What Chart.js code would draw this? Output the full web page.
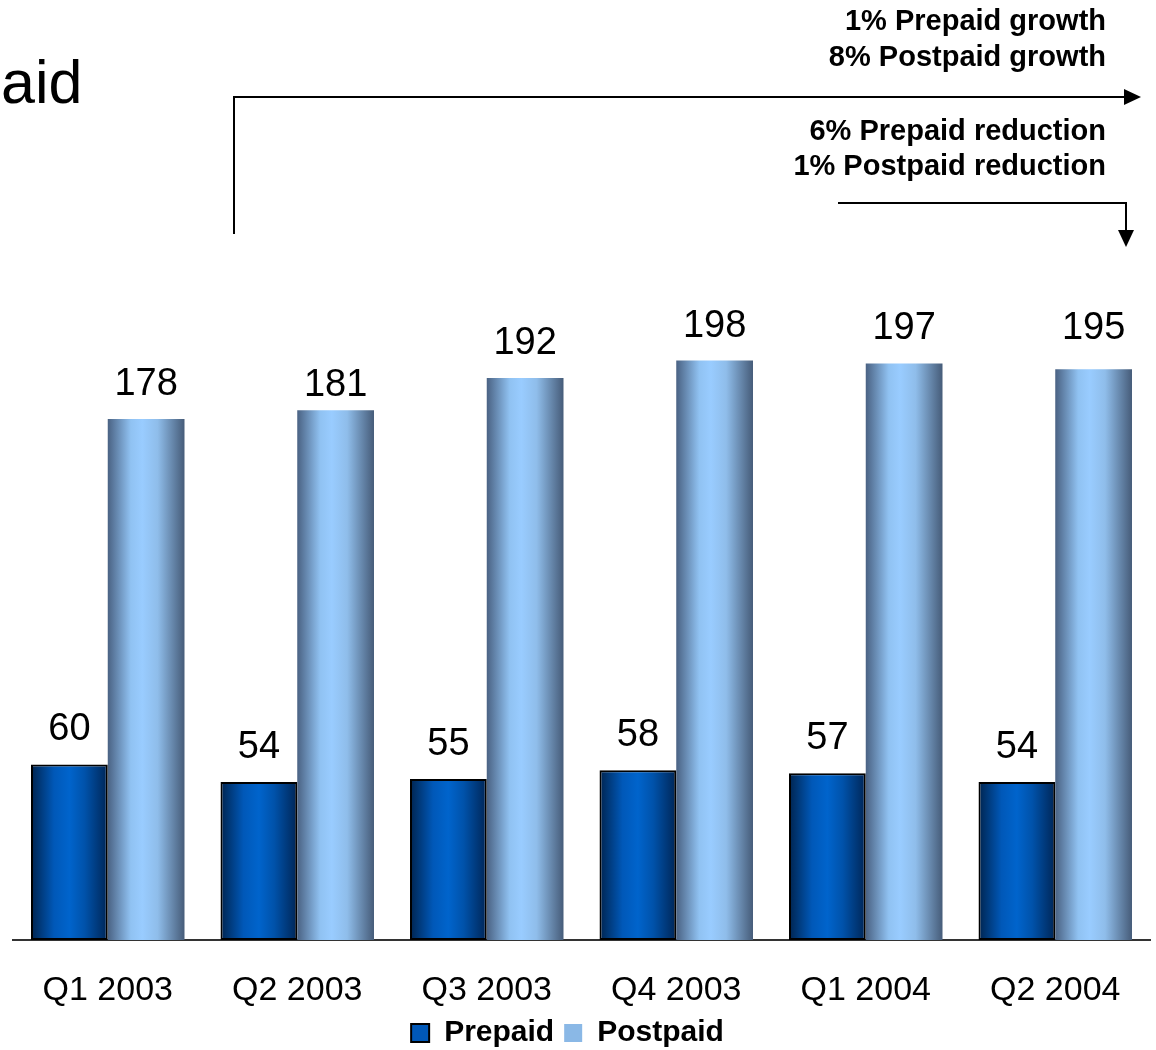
<!DOCTYPE html>
<html>
<head>
<meta charset="utf-8">
<title>Prepaid / Postpaid</title>
<script src="https://cdn.jsdelivr.net/npm/chart.js@4.4.1/dist/chart.umd.min.js"></script>
<style>
    html, body { margin: 0; padding: 0; background: #fff; }
    #wrap { position: relative; width: 1156px; height: 1050px; }
</style>
</head>
<body>
<div id="wrap"><canvas id="myChart"></canvas></div>
<script>
// Quarterly subscriber figures
const quarters = ['Q1 2003', 'Q2 2003', 'Q3 2003', 'Q4 2003', 'Q1 2004', 'Q2 2004'];
const prepaid = [60, 54, 55, 58, 57, 54];
const postpaid = [178, 181, 192, 198, 197, 195];
const seriesNames = ['Prepaid', 'Postpaid'];
const growthNotes = ['1% Prepaid growth', '8% Postpaid growth'];
const reductionNotes = ['6% Prepaid reduction', '1% Postpaid reduction'];

const FONT = "'Liberation Sans', Arial, sans-serif";

// left-to-right shading used on each bar, one set per series
const barShades = [
    [[0, '#00244f'], [0.3, '#0058b8'], [0.5, '#0064cc'], [0.7, '#0052aa'], [1, '#002657']],
    [[0, '#4a6283'], [0.3, '#90c2f2'], [0.45, '#99ccff'], [0.65, '#8fbdea'], [1, '#465c79']]
];

document.addEventListener('DOMContentLoaded', function () {
    createChart();
});

// swaps each bar's flat fill for a horizontal gradient spanning the bar
const barShading = {
    id: 'barShading',
    beforeDatasetsDraw(chart) {
        const ctx = chart.ctx;
        chart.data.datasets.forEach((ds, di) => {
            chart.getDatasetMeta(di).data.forEach(bar => {
                const g = ctx.createLinearGradient(bar.x - bar.width / 2, 0, bar.x + bar.width / 2, 0);
                barShades[di].forEach(s => g.addColorStop(s[0], s[1]));
                bar.options.backgroundColor = g;
            });
        });
    }
};

// value printed above every bar (a couple of labels sit a little off the usual gap)
const labelNudge = { '1-1': 10, '1-5': -6 };
const valueLabels = {
    id: 'valueLabels',
    afterDatasetsDraw(chart) {
        const ctx = chart.ctx;
        ctx.save();
        ctx.font = '38px ' + FONT;
        ctx.fillStyle = '#000';
        ctx.textAlign = 'center';
        ctx.textBaseline = 'alphabetic';
        chart.data.datasets.forEach((ds, di) => {
            chart.getDatasetMeta(di).data.forEach((bar, i) => {
                const nudge = labelNudge[di + '-' + i] || 0;
                ctx.fillText(ds.data[i], bar.x, bar.y - 24 + nudge);
            });
        });
        ctx.restore();
    }
};

// legend row sits a bit left of the canvas centre
const legendShift = {
    id: 'legendShift',
    afterLayout(chart) {
        if (chart.legend) {
            chart.legend.left -= 14;
            chart.legend.right -= 14;
        }
    }
};

// heading remnant, trend notes and the two bracket arrows
const notes = {
    id: 'notes',
    afterDraw(chart) {
        const ctx = chart.ctx;
        ctx.save();
        ctx.fillStyle = '#000';
        ctx.textBaseline = 'alphabetic';

        ctx.font = '61px ' + FONT;
        ctx.textAlign = 'left';
        ctx.fillText('aid', 1, 103);

        ctx.font = 'bold 29px ' + FONT;
        ctx.textAlign = 'right';
        ctx.fillText(growthNotes[0], 1106, 30);
        ctx.fillText(growthNotes[1], 1106, 66);
        ctx.fillText(reductionNotes[0], 1106, 140);
        ctx.fillText(reductionNotes[1], 1106, 175);

        ctx.strokeStyle = '#000';
        ctx.lineWidth = 2;
        ctx.lineJoin = 'miter';

        // growth bracket: up from Q2 and across to the right
        ctx.beginPath();
        ctx.moveTo(234, 234);
        ctx.lineTo(234, 97);
        ctx.lineTo(1127, 97);
        ctx.stroke();
        ctx.beginPath();
        ctx.moveTo(1124, 89);
        ctx.lineTo(1141, 97);
        ctx.lineTo(1124, 105);
        ctx.closePath();
        ctx.fill();

        // reduction bracket: across from Q1 2004 and down
        ctx.beginPath();
        ctx.moveTo(838, 203);
        ctx.lineTo(1126, 203);
        ctx.lineTo(1126, 233);
        ctx.stroke();
        ctx.beginPath();
        ctx.moveTo(1118, 230);
        ctx.lineTo(1134, 230);
        ctx.lineTo(1126, 247);
        ctx.closePath();
        ctx.fill();

        ctx.restore();
    }
};

function createChart() {
    const ctx = document.getElementById('myChart').getContext('2d');
    const myChart = new Chart(ctx, {
        type: 'bar',
        data: {
            labels: quarters,
            datasets: [{
                label: seriesNames[0],
                data: prepaid,
                backgroundColor: () => '#0060c8',
                borderColor: '#000',
                borderWidth: 2,
                borderSkipped: false
            }, {
                label: seriesNames[1],
                data: postpaid,
                backgroundColor: () => '#99ccff',
                borderWidth: 0
            }]
        },
        options: {
            responsive: true,
            maintainAspectRatio: false,
            animation: false,
            events: [],
            layout: {
                padding: { top: 62, left: 13, right: 6, bottom: 0 }
            },
            datasets: {
                bar: {
                    categoryPercentage: 0.81,
                    barPercentage: 1.0
                }
            },
            scales: {
                x: {
                    grid: { display: false, drawTicks: false },
                    border: { display: true, color: '#333', width: 2 },
                    ticks: {
                        color: '#000',
                        font: { family: FONT, size: 34 },
                        padding: 30,
                        maxRotation: 0,
                        autoSkip: false
                    },
                    afterFit(scale) {
                        scale.height = 68;
                    }
                },
                y: {
                    display: false,
                    min: 0,
                    max: 300
                }
            },
            plugins: {
                legend: {
                    position: 'bottom',
                    maxHeight: 42,
                    labels: {
                        color: '#000',
                        font: { family: FONT, size: 30, weight: 'bold' },
                        boxWidth: 18,
                        boxHeight: 18,
                        padding: 10,
                        generateLabels: chart => chart.data.datasets.map((ds, i) => ({
                            text: ds.label,
                            fillStyle: i === 0 ? '#0058b8' : '#8ab8e6',
                            strokeStyle: '#000',
                            lineWidth: i === 0 ? 2 : 0,
                            hidden: false,
                            datasetIndex: i
                        }))
                    }
                },
                tooltip: { enabled: false },
                title: { display: false }
            }
        },
        plugins: [barShading, valueLabels, legendShift, notes]
    });
}
</script>
</body>
</html>
